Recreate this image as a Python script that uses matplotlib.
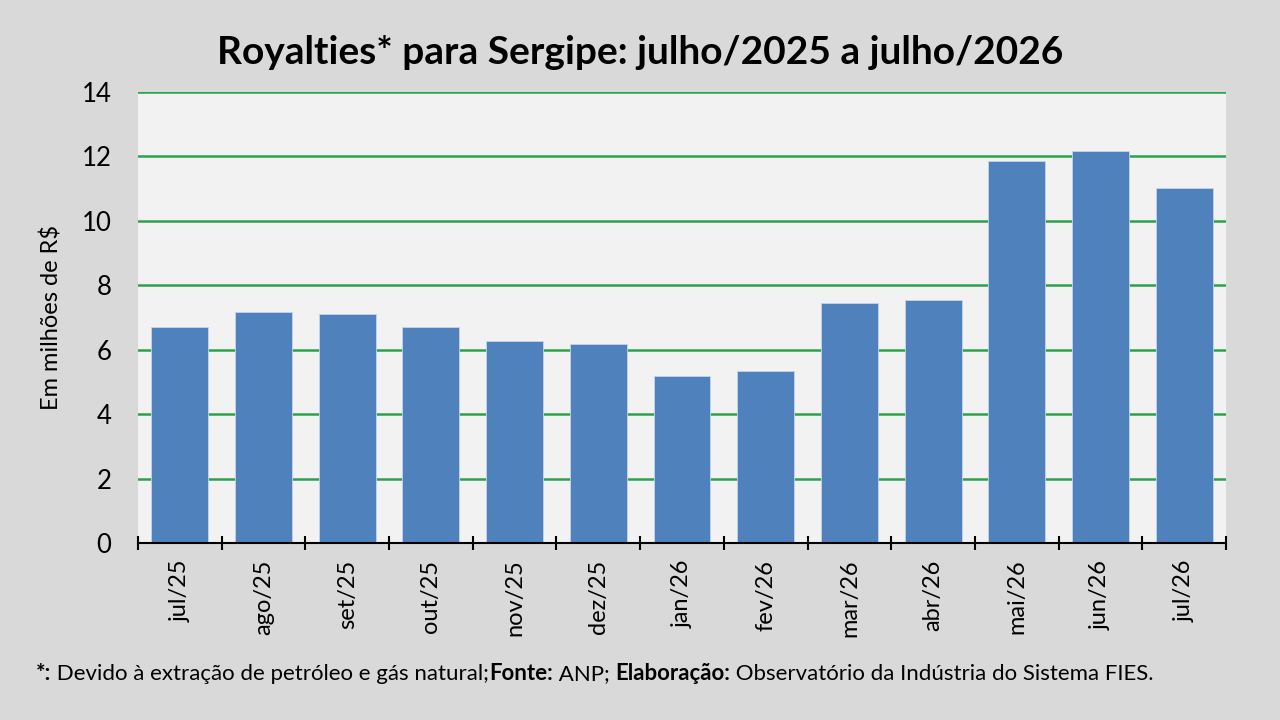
import matplotlib.pyplot as plt

# Dados (milhões de R$)
meses = ["jul/25", "ago/25", "set/25", "out/25", "nov/25", "dez/25", "jan/26",
         "fev/26", "mar/26", "abr/26", "mai/26", "jun/26", "jul/26"]
royalties = [6.72, 7.16, 7.10, 6.72, 6.27, 6.17, 5.18, 5.34, 7.45, 7.54, 11.86, 12.17, 11.02]
y_ticks = [0, 2, 4, 6, 8, 10, 12, 14]

plt.rcParams["font.family"] = ["Lato", "DejaVu Sans"]

fig = plt.figure(figsize=(12.8, 7.2), dpi=100, facecolor="#d9d9d9")
ax = fig.add_axes([138 / 1280, 1 - 543 / 720, 1088 / 1280, 451 / 720])
ax.set_facecolor("#f2f2f2")

x = list(range(len(meses)))
ax.bar(x, royalties, width=0.68, color="#4f81bd", edgecolor="#c5d5ea", linewidth=0.6, zorder=3)

ax.set_xlim(-0.5, len(meses) - 0.5)
ax.set_ylim(0, 14)
ax.set_yticks(y_ticks)
ax.yaxis.grid(True, color="#2ca14d", linewidth=1.8, zorder=1)
ax.set_axisbelow(True)

for s in ["top", "right", "left"]:
    ax.spines[s].set_visible(False)
ax.spines["bottom"].set_color("black")
ax.spines["bottom"].set_linewidth(1.5)
ax.spines["bottom"].set_zorder(4)

# ticks entre categorias
ax.set_xticks([i - 0.5 for i in range(len(meses) + 1)], minor=False)
ax.set_xticklabels([])
ax.tick_params(axis="x", which="major", direction="inout", length=10, width=1.5, color="black")
ax.set_xticks(x, minor=True)
ax.set_xticklabels(meses, minor=True, rotation=90, fontsize=17)
ax.tick_params(axis="x", which="minor", length=0, pad=12)

ax.tick_params(axis="y", length=0, labelsize=18.5, pad=19)
ax.set_ylabel("Em milhões de R$", fontsize=17, labelpad=14)

fig.text(0.5, 1 - 52 / 720, "Royalties* para Sergipe: julho/2025 a julho/2026",
         ha="center", va="center", fontsize=28, fontweight="bold")

# rodapé
rodape = [("*:", "bold"), (" Devido à extração de petróleo e gás natural;", "normal"),
          ("Fonte:", "bold"), (" ANP; ", "normal"), ("Elaboração:", "bold"),
          (" Observatório da Indústria do Sistema FIES.", "normal")]
renderer = fig.canvas.get_renderer()
xpos = 36 / 1280
for txt, peso in rodape:
    t = fig.text(xpos, 1 - 674 / 720, txt, ha="left", va="center", fontsize=16, fontweight=peso)
    bb = t.get_window_extent(renderer=renderer)
    xpos += bb.width / 1280

fig.savefig("out.png", dpi=100, facecolor=fig.get_facecolor())
